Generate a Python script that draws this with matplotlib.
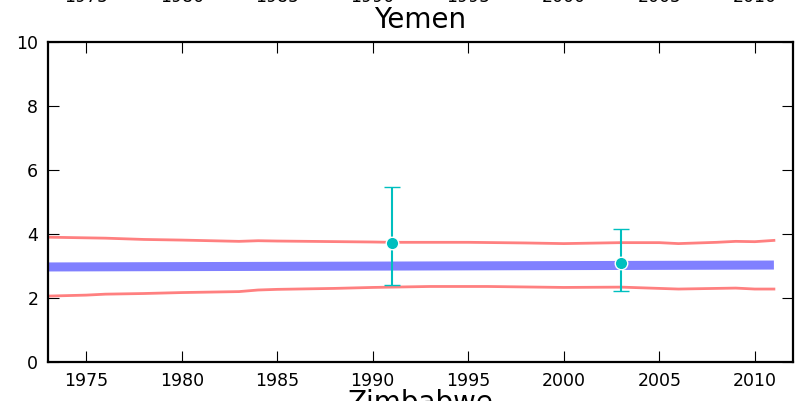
import matplotlib
matplotlib.use("Agg")
import matplotlib.pyplot as plt
from matplotlib.transforms import blended_transform_factory

# data
years_up = [1973, 1976, 1978, 1980, 1983, 1984, 1985, 1990, 1991, 1995, 1998, 2000, 2003, 2005, 2006, 2008, 2009, 2010, 2011]
upper = [3.90, 3.87, 3.83, 3.81, 3.77, 3.79, 3.78, 3.75, 3.74, 3.74, 3.72, 3.70, 3.73, 3.73, 3.70, 3.74, 3.77, 3.76, 3.80]

years_lo = [1973, 1975, 1976, 1978, 1980, 1983, 1984, 1985, 1988, 1990, 1993, 1996, 2000, 2003, 2006, 2009, 2010, 2011]
lower = [2.06, 2.09, 2.12, 2.14, 2.17, 2.20, 2.25, 2.27, 2.30, 2.33, 2.36, 2.36, 2.33, 2.34, 2.28, 2.31, 2.28, 2.28]

years_fit = [1973, 2011]
fit = [2.97, 3.03]

obs_years = [1991, 2003]
obs = [3.72, 3.09]
err_lo = [2.41, 2.22]
err_hi = [5.47, 4.16]

ticks = [1975, 1980, 1985, 1990, 1995, 2000, 2005, 2010]

fig = plt.figure(figsize=(8.03, 4.01), dpi=100)
ax = fig.add_axes([48/803, 1-362/401, 745/803, 320/401])

ax.plot(years_fit, fit, color="#8080ff", lw=6.5, solid_capstyle="butt")
ax.plot(years_up, upper, color="#ff8080", lw=2)
ax.plot(years_lo, lower, color="#ff8080", lw=2)

yerr = [[o - l for o, l in zip(obs, err_lo)], [h - o for o, h in zip(obs, err_hi)]]
ax.errorbar(obs_years, obs, yerr=yerr, fmt="o", color="#00bfbf", ecolor="#00bfbf",
            ms=9, mec="white", mew=1, elinewidth=1.5, capsize=5.5, capthick=1.5)

ax.set_xlim(1973, 2012)
ax.set_ylim(0, 10)
ax.set_xticks(ticks)
ax.set_yticks([0, 2, 4, 6, 8, 10])
ax.tick_params(direction="in", length=8, width=0.8, labelsize=12.5, pad=7,
               top=True, right=True)
for s in ax.spines.values():
    s.set_linewidth(1.6)
ax.set_title("Yemen", fontsize=20, pad=10)

# pieces of the neighbouring panels cut off by the crop
tr = blended_transform_factory(ax.transData, fig.transFigure)
for t in ticks:
    ax.text(t, 1 - 2.5/401, str(t), transform=tr, ha="center", va="baseline",
            fontsize=12.5, clip_on=False)
fig.text((48 + 793) / 2 / 803, 1 - 411/401, "Zimbabwe", ha="center", va="baseline", fontsize=20)

fig.savefig("out.png", dpi=100)
